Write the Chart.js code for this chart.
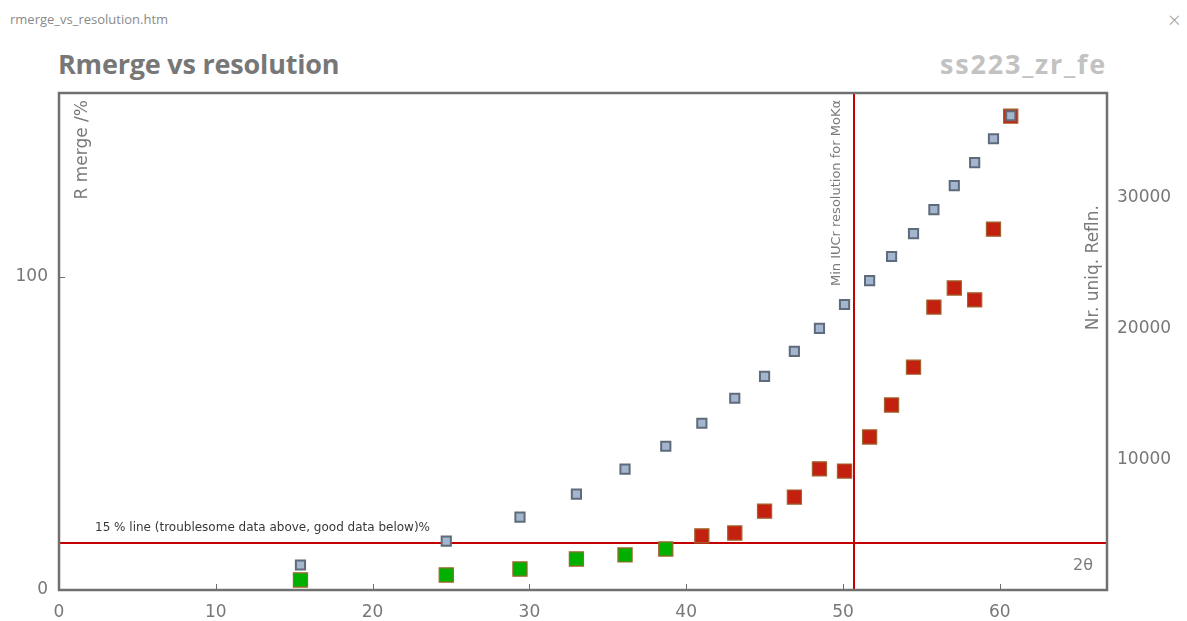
<!DOCTYPE html>
<html>
<head>
<meta charset="utf-8">
<title>rmerge_vs_resolution.htm</title>
<script src="https://cdn.jsdelivr.net/npm/chart.js@4/dist/chart.umd.min.js"></script>
<style>
  html, body { margin: 0; padding: 0; background: #fff; }
  #wrap { position: relative; width: 1187px; height: 621px; overflow: hidden; }
  #chart { position: absolute; left: 0; top: 0; }
  .txt { position: absolute; white-space: nowrap; font-family: "Open Sans", sans-serif; }
  #fname { left: 10px; top: 10px; font-size: 13px; color: #8a8a8a; }
  #close { left: 1168px; top: 4px; font-size: 22px; color: #9a9a9a; font-weight: 300; }
  #title { left: 58px; top: 45px; font-size: 27px; font-weight: 700; color: #777; letter-spacing: -0.2px; }
  #ident { right: 80px; top: 45px; font-size: 27px; font-weight: 700; color: #c2c2c2; letter-spacing: 1.8px; }
</style>
</head>
<body>
<div id="wrap">
  <div class="txt" id="fname">rmerge_vs_resolution.htm</div>
  <div class="txt" id="close">×</div>
  <div class="txt" id="title">Rmerge vs resolution</div>
  <div class="txt" id="ident">ss223_zr_fe</div>
  <canvas id="chart" width="1187" height="621"></canvas>
</div>
<script>
// Resolution shells (2θ, degrees)
const twoTheta = [15.4, 24.7, 29.4, 33.0, 36.1, 38.7, 41.0, 43.1, 45.0, 46.9,
                  48.5, 50.1, 51.7, 53.1, 54.5, 55.8, 57.1, 58.4, 59.6, 60.7];
// R merge per shell (%)
const rMerge = [3.2, 4.8, 6.7, 9.9, 11.2, 13.1, 17.3, 18.2, 25.2, 29.7,
                38.7, 38.0, 48.9, 59.1, 71.2, 90.4, 96.5, 92.7, 115.3, 151.4];
// Cumulative number of unique reflections
const uniqRefl = [1910, 3740, 5570, 7330, 9240, 10990, 12750, 14660, 16340, 18240,
                  20000, 21830, 23660, 25500, 27250, 29080, 30920, 32670, 34500, 36260];

// Reference lines
const rMergeLimit = 15;        // % threshold
const iucrMinTwoTheta = 50.7;  // min IUCr resolution for MoKα

// Axis ranges and tick values
const xRange = [0, 66.84];
const xTicks = [0, 10, 20, 30, 40, 50, 60];
const yRange = [0, 158.8];
const yTicks = [0, 100];
const y2Range = [0, 38000];
const y2Ticks = [10000, 20000, 30000];

const greyText = '#777';
const lineRed = '#c40000';
const labelFont = '"DejaVu Sans", sans-serif';

const fixedTicks = values => scale => { scale.ticks = values.map(v => ({value: v})); };
const plainNumber = v => String(v);

const annotations = {
  id: 'annotations',
  beforeDatasetsDraw(chart) {
    const {ctx, chartArea: a, scales} = chart;
    ctx.save();
    ctx.strokeStyle = lineRed;
    ctx.lineWidth = 2;
    const yl = Math.round(scales.y.getPixelForValue(rMergeLimit));
    ctx.beginPath();
    ctx.moveTo(a.left, yl); ctx.lineTo(a.right, yl);
    ctx.stroke();
    const xl = Math.round(scales.x.getPixelForValue(iucrMinTwoTheta));
    ctx.beginPath();
    ctx.moveTo(xl, a.top); ctx.lineTo(xl, a.bottom);
    ctx.stroke();

    // in-plot labels
    ctx.fillStyle = '#383838';
    ctx.font = '12px ' + labelFont;
    ctx.textBaseline = 'middle';
    ctx.textAlign = 'left';
    ctx.fillText('15 % line (troublesome data above, good data below)%', a.left + 36, yl - 15);

    ctx.fillStyle = '#7a7a7a';
    ctx.font = '13px ' + labelFont;
    ctx.save();
    ctx.translate(xl - 17, a.top + 7);
    ctx.rotate(-Math.PI / 2);
    ctx.textAlign = 'right';
    ctx.textBaseline = 'middle';
    ctx.fillText('Min IUCr resolution for MoKα', 0, 0);
    ctx.restore();

    ctx.font = '17px ' + labelFont;
    ctx.save();
    ctx.translate(a.left + 24, a.top + 7);
    ctx.rotate(-Math.PI / 2);
    ctx.textAlign = 'right';
    ctx.textBaseline = 'middle';
    ctx.fillText('R merge /%', 0, 0);
    ctx.restore();

    ctx.save();
    ctx.translate(a.right - 13, a.top + 112);
    ctx.rotate(-Math.PI / 2);
    ctx.textAlign = 'right';
    ctx.textBaseline = 'middle';
    ctx.fillText('Nr. uniq. Refln.', 0, 0);
    ctx.restore();

    ctx.font = '16px ' + labelFont;
    ctx.textAlign = 'right';
    ctx.textBaseline = 'middle';
    ctx.fillText('2θ', a.right - 14, a.bottom - 24);
    ctx.restore();
  },
  afterDraw(chart) {
    const {ctx, chartArea: a, scales} = chart;
    ctx.save();
    ctx.strokeStyle = '#6e6e6e';
    ctx.lineWidth = 1;
    // inner tick marks
    ctx.beginPath();
    for (const t of scales.x.ticks) {
      if (t.value === 0) continue;
      const px = Math.round(scales.x.getPixelForValue(t.value)) + 0.5;
      ctx.moveTo(px, a.bottom); ctx.lineTo(px, a.bottom - 6);
    }
    for (const t of scales.y.ticks) {
      if (t.value === 0) continue;
      const py = Math.round(scales.y.getPixelForValue(t.value)) + 0.5;
      ctx.moveTo(a.left, py); ctx.lineTo(a.left + 6, py);
    }
    ctx.stroke();
    // frame
    ctx.lineWidth = 2.5;
    ctx.strokeStyle = '#707070';
    ctx.strokeRect(a.left, a.top, a.right - a.left, a.bottom - a.top);
    ctx.restore();
  }
};

const tickFont = {family: labelFont, size: 17};

new Chart(document.getElementById('chart'), {
  type: 'scatter',
  data: {
    datasets: [
      {
        label: 'Nr. uniq. Refln.',
        yAxisID: 'y2',
        data: twoTheta.map((t, i) => ({x: t, y: uniqRefl[i]})),
        pointStyle: 'rect',
        pointRadius: 6.5,
        pointBackgroundColor: '#a3b6cf',
        pointBorderColor: '#5f6b7a',
        pointBorderWidth: 2
      },
      {
        label: 'R merge /%',
        yAxisID: 'y',
        data: twoTheta.map((t, i) => ({x: t, y: rMerge[i]})),
        pointStyle: 'rect',
        pointRadius: 10,
        pointBackgroundColor: ctx => (ctx.raw && ctx.raw.y < rMergeLimit) ? '#00b000' : '#c42010',
        pointBorderColor: '#a0642e',
        pointBorderWidth: 1.2
      }
    ]
  },
  options: {
    responsive: false,
    animation: false,
    events: [],
    layout: {padding: {top: 93, left: 0, right: 0, bottom: 0}},
    plugins: {legend: {display: false}, tooltip: {enabled: false}},
    scales: {
      x: {
        type: 'linear',
        min: xRange[0], max: xRange[1],
        grid: {display: false, drawTicks: false},
        border: {display: false},
        ticks: {color: greyText, font: tickFont, padding: 12, maxRotation: 0, callback: plainNumber},
        afterBuildTicks: fixedTicks(xTicks),
        afterFit: s => { s.height = 31; }
      },
      y: {
        type: 'linear', position: 'left',
        min: yRange[0], max: yRange[1],
        grid: {display: false, drawTicks: false},
        border: {display: false},
        ticks: {color: greyText, font: tickFont, padding: 11, callback: plainNumber},
        afterBuildTicks: fixedTicks(yTicks),
        afterFit: s => { s.width = 59; }
      },
      y2: {
        type: 'linear', position: 'right',
        min: y2Range[0], max: y2Range[1],
        grid: {display: false, drawTicks: false},
        border: {display: false},
        ticks: {color: greyText, font: tickFont, padding: 10, callback: plainNumber},
        afterBuildTicks: fixedTicks(y2Ticks),
        afterFit: s => { s.width = 80; }
      }
    }
  },
  plugins: [annotations]
});
</script>
</body>
</html>
